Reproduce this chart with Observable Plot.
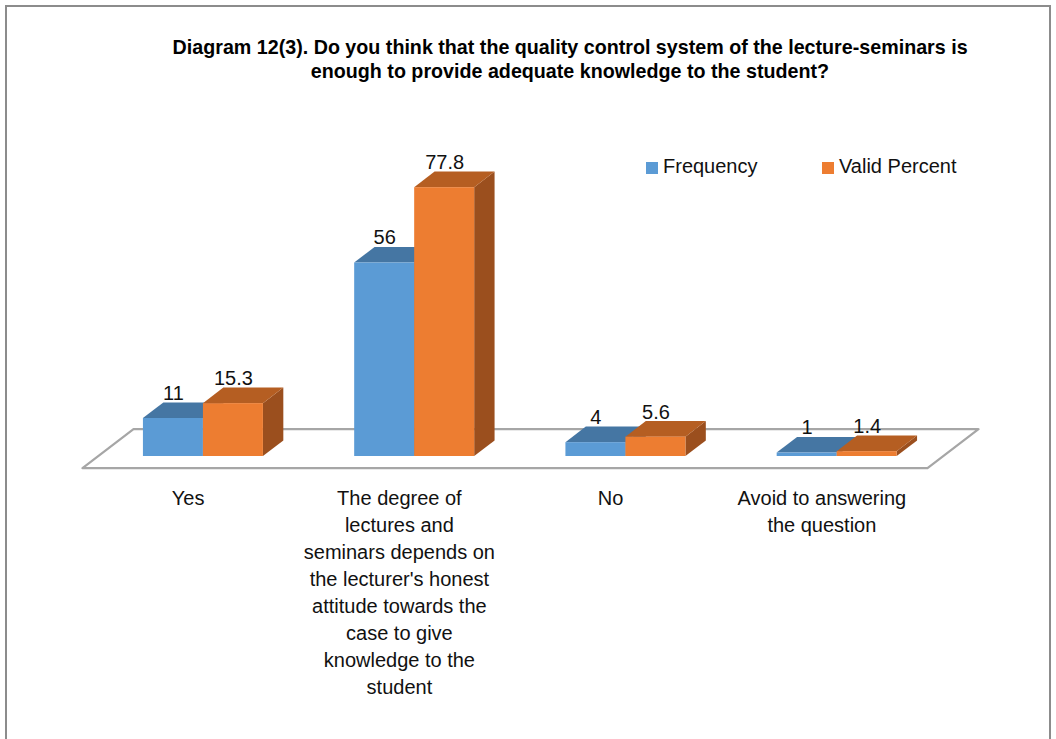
<!DOCTYPE html>
<html>
<head>
<meta charset="utf-8">
<script src="https://cdn.jsdelivr.net/npm/d3@7"></script>
<script src="https://cdn.jsdelivr.net/npm/@observablehq/plot@0.6"></script>
<style>
  html, body { margin: 0; padding: 0; background: #fff; overflow: hidden; }
  #page { position: relative; width: 1056px; height: 739px; }
  #frame { position: absolute; left: 5px; top: 5px; width: 1046px; height: 800px;
           border: 2px solid #8c8c8c; border-bottom: none; box-sizing: border-box; pointer-events: none; }
  #title { position: absolute; left: 120px; width: 900px; top: 35px; text-align: center;
           font-family: "Liberation Sans", Arial, sans-serif;
           font-weight: bold; font-size: 20.5px; line-height: 24px; color: #000; white-space: nowrap; }
  #title span { display: inline-block; transform-origin: center; }
  .legend { position: absolute; top: 154px; font-family: "Liberation Sans", Arial, sans-serif;
            font-size: 20px; line-height: 24px; color: #111; white-space: nowrap; }
  .legend i { display: inline-block; width: 12px; height: 12px; margin-right: 5px; vertical-align: -1px; }
  #chart { position: absolute; left: 0; top: 0; }
</style>
</head>
<body>
<div id="page">
  <div id="chart"></div>
  <div id="title"></div>
  <div id="legend"></div>
  <div id="frame"></div>
</div>
<script>
// ---- data ----
const titleLines = [
  "Diagram 12(3). Do you think that the quality control system of the lecture-seminars is",
  "enough to provide adequate knowledge to the student?"
];
const categories = [
  "Yes",
  "The degree of\nlectures and\nseminars depends on\nthe lecturer's honest\nattitude towards the\ncase to give\nknowledge to the\nstudent",
  "No",
  "Avoid to answering\nthe question"
];
const seriesNames = ["Frequency", "Valid Percent"];
const frequency = [11, 56, 4, 1];
const validPercent = [15.3, 77.8, 5.6, 1.4];

// ---- styles ----
const frontColors = ["#5B9BD5", "#ED7D31"];
const topColors = ["#4576A3", "#B55E22"];
const sideColors = ["#3D6891", "#9B4F1E"];

// ---- geometry (pixel-based depth converted to data units) ----
const X0 = 97.3, X1 = 942.3, Y0 = 456, Y1 = 110.5;
const XU = 4 / (X1 - X0);       // x units per px
const YU = 100 / (Y0 - Y1);     // y units per px
const barW = 60 * XU;
const bdx = 20.4 * XU, bdy = 15.6 * YU;       // bar depth
const fx0 = -15.3 * XU, fy0 = -11.7 * YU;     // floor front offset
const fx1 = 35.7 * XU, fy1 = 27.3 * YU;       // floor back offset

const bars = categories.flatMap((c, i) => seriesNames.map((s, j) => {
  const v = j === 0 ? frequency[i] : validPercent[i];
  const x1 = i + 0.5 - barW + j * barW;
  return { id: i * 2 + j, i, j, s, v, x1, x2: x1 + barW };
}));
const sides = bars.flatMap(b => [
  { id: b.id, j: b.j, x: b.x2, y1: 0, y2: b.v },
  { id: b.id, j: b.j, x: b.x2 + bdx, y1: bdy, y2: b.v + bdy }
]);
const tops = bars.flatMap(b => [
  { id: b.id, j: b.j, y: b.v, x1: b.x1, x2: b.x2 },
  { id: b.id, j: b.j, y: b.v + bdy, x1: b.x1 + bdx, x2: b.x2 + bdx }
]);
const n = categories.length;
const floor = [
  { x: fx0, y: fy0 }, { x: n + fx0, y: fy0 }, { x: n + fx1, y: fy1 }, { x: fx1, y: fy1 }, { x: fx0, y: fy0 }
];

const chart = Plot.plot({
  width: 1056,
  height: 739,
  margin: 0,
  style: { fontFamily: "'Liberation Sans', Arial, sans-serif", background: "transparent", color: "#111" },
  x: { type: "linear", domain: [0, n], range: [X0, X1], axis: null },
  y: { type: "linear", domain: [0, 100], range: [Y0, Y1], axis: null },
  color: { type: "identity" },
  marks: [
    Plot.line(floor, { x: "x", y: "y", stroke: "#a6a6a6", strokeWidth: 2.2 }),
    Plot.areaY(sides, { x: "x", y1: "y1", y2: "y2", z: "id", fill: d => sideColors[d.j] }),
    Plot.areaX(tops, { y: "y", x1: "x1", x2: "x2", z: "id", fill: d => topColors[d.j] }),
    Plot.rect(bars, { x1: "x1", x2: "x2", y1: 0, y2: "v", fill: d => frontColors[d.j] }),
    Plot.text(bars, { x: d => (d.x1 + d.x2) / 2, y: d => d.v + bdy, text: d => String(d.v),
                      lineAnchor: "bottom", dy: -3, fontSize: 20, fill: "#111" }),
    Plot.text(categories, { x: (d, i) => i + 0.5 + fx0, y: () => -29 * YU, text: d => d,
                      lineAnchor: "top", lineHeight: 1.35, fontSize: 20, fill: "#111" })
  ]
});
document.getElementById("chart").appendChild(chart);

// title
const titleEl = document.getElementById("title");
titleEl.innerHTML = titleLines.map(t => `<span>${t}</span>`).join("<br>");
const spans = titleEl.querySelectorAll("span");
const w0 = spans[0].getBoundingClientRect().width;
const sx = w0 > 0 ? 795 / w0 : 1;
spans.forEach(s => { s.style.transform = `scaleX(${sx})`; });

// legend
const legendEl = document.getElementById("legend");
const legendX = [646, 822];
legendEl.innerHTML = seriesNames.map((s, j) =>
  `<div class="legend" style="left:${legendX[j]}px"><i style="background:${frontColors[j]}"></i>${s}</div>`
).join("");
</script>
</body>
</html>
